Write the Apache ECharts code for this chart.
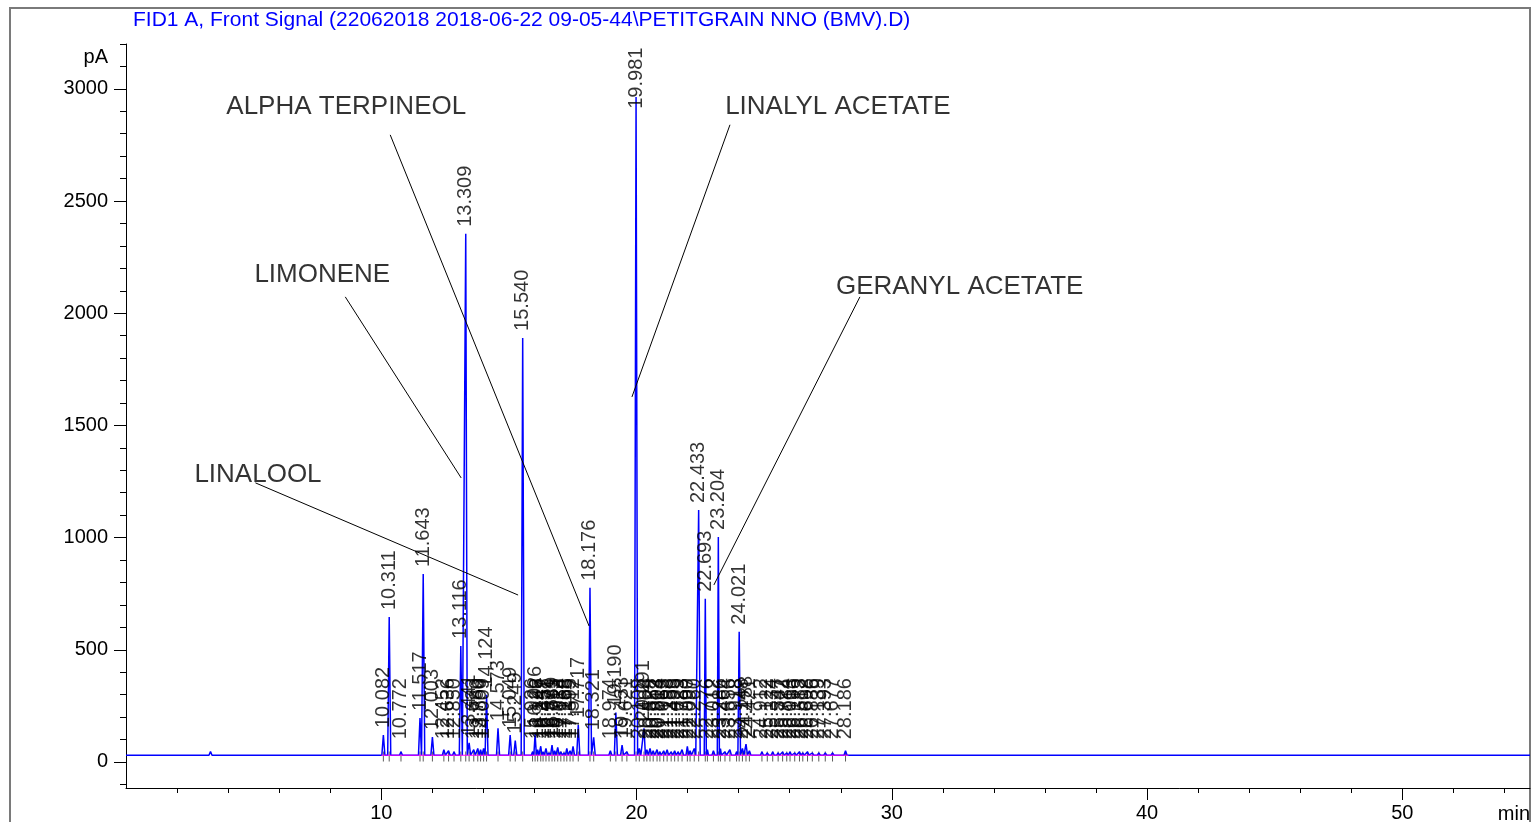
<!DOCTYPE html>
<html>
<head>
<meta charset="utf-8">
<script src="https://cdn.jsdelivr.net/npm/echarts@6/dist/echarts.min.js"></script>
<style>
html,body{margin:0;padding:0;background:#fff;}
#chart{width:1531px;height:822px;}
</style>
</head>
<body>
<div id="chart"></div>
<script>
// ---------------- data ----------------
const titleText = 'FID1 A, Front Signal (22062018 2018-06-22 09-05-44\\PETITGRAIN NNO (BMV).D)';
const baseline = 30; // pA

// labelled peaks: retention time (min) and apex height (pA)
const peakTimes = [
  10.082, 10.311, 10.772, 11.517, 11.643, 12.003, 12.452, 12.636, 12.850, 13.116,
  13.309, 13.441, 13.623, 13.780, 13.890, 14.009, 14.124, 14.573, 15.049, 15.249,
  15.540, 15.926, 16.026, 16.126, 16.247, 16.338, 16.452, 16.571, 16.689, 16.793,
  16.912, 17.034, 17.158, 17.268, 17.395, 17.512, 17.717, 18.176, 18.321, 18.974,
  19.190, 19.433, 19.621, 19.981, 20.108, 20.291, 20.404, 20.528, 20.652, 20.803,
  20.914, 21.063, 21.198, 21.356, 21.493, 21.629, 21.783, 21.990, 22.097, 22.260,
  22.433, 22.693, 22.776, 23.012, 23.204, 23.286, 23.464, 23.656, 23.918, 24.021,
  24.148, 24.288, 24.421, 24.912, 25.122, 25.334, 25.547, 25.722, 25.884, 26.013,
  26.196, 26.383, 26.512, 26.698, 26.886, 27.139, 27.393, 27.677, 28.186
];
const peakHeights = [
  120, 646, 45, 196, 838, 111, 55, 50, 45, 517,
  2354, 85, 55, 60, 55, 60, 300, 150, 120, 95,
  1890, 45, 125, 55, 70, 45, 60, 40, 75, 50,
  65, 45, 40, 60, 50, 70, 165, 776, 110, 50,
  220, 75, 45, 2964, 60, 150, 55, 60, 50, 55,
  45, 50, 55, 45, 50, 45, 55, 70, 50, 60,
  1123, 727, 55, 50, 1003, 60, 45, 55, 45, 580,
  60, 80, 50, 45, 40, 45, 40, 45, 40, 45,
  40, 45, 40, 45, 40, 40, 40, 40, 50
];
// small unlabelled bumps in the early baseline
const bumpTimes = [3.31, 3.98];
const bumpHeights = [46, 34];

// integration baseline (magenta)
const integrationBaseline = [[10.0, 30], [28.3, 30]];

// axes ticks
const xMajorTicks = [10, 20, 30, 40, 50];
const xMinorTicks = [2,4,6,8,10,12,14,16,18,20,22,24,26,28,30,32,34,36,38,40,42,44,46,48,50,52,54];
const yMajorTicks = [0, 500, 1000, 1500, 2000, 2500, 3000];
const yMinorTicks = [-100,0,100,200,300,400,500,600,700,800,900,1000,1100,1200,1300,1400,1500,
  1600,1700,1800,1900,2000,2100,2200,2300,2400,2500,2600,2700,2800,2900,3000,3100,3200];

// compound annotations (data coordinates)
const compoundNames = ['LINALOOL', 'LIMONENE', 'ALPHA TERPINEOL', 'LINALYL ACETATE', 'GERANYL ACETATE'];
const compoundTextAt = [[2.68, 1279], [5.03, 2171], [3.93, 2920], [23.47, 2920], [27.81, 2117]];
const compoundLineFrom = [[5.07, 1244], [8.59, 2073], [10.35, 2795], [23.66, 2840], [28.75, 2073]];
const compoundLineTo = [[15.36, 744], [13.13, 1266], [18.14, 606], [19.82, 1627], [23.03, 789]];

// ---------------- build trace ----------------
const FONT = '"Liberation Sans", Arial, sans-serif';
const allPeaks = peakTimes.map((t, i) => [t, peakHeights[i]])
  .concat(bumpTimes.map((t, i) => [t, bumpHeights[i]]))
  .sort((a, b) => a[0] - b[0]);
const trace = [[0, baseline]];
allPeaks.forEach((p, i) => {
  const prev = i > 0 ? allPeaks[i - 1][0] : -Infinity;
  const next = i < allPeaks.length - 1 ? allPeaks[i + 1][0] : Infinity;
  const hw = Math.min(0.06, (p[0] - prev) / 2, (next - p[0]) / 2);
  trace.push([p[0] - hw, baseline], [p[0], p[1]], [p[0] + hw, baseline]);
});
trace.push([55, baseline]);

// labels sit above the apex, but never below a floor nor beyond the plot top
const labelFloor = 70;
const labelCeiling = 2880;

const chart = echarts.init(document.getElementById('chart'), null, {renderer: 'canvas'});
chart.setOption({
  animation: false,
  backgroundColor: '#ffffff',
  title: {
    text: titleText, left: 133, top: 10, padding: 0,
    textStyle: {color: '#0000ff', fontSize: 21, fontWeight: 'normal', fontFamily: FONT}
  },
  graphic: [{
    type: 'rect', silent: true, z: -10,
    shape: {x: 10, y: 8, width: 1520, height: 840},
    style: {fill: 'none', stroke: '#7a7a7a', lineWidth: 2}
  }],
  grid: {left: 126, right: 1, top: 44, bottom: 34, containLabel: false, outerBoundsMode: 'none'},
  xAxis: [{
    type: 'value', min: 0, max: 55, position: 'bottom',
    axisLine: {show: true, onZero: false, lineStyle: {color: '#000', width: 1}},
    axisTick: {show: true, customValues: xMajorTicks, length: 12, lineStyle: {color: '#000'}},
    axisLabel: {show: true, customValues: xMajorTicks, margin: 15, fontSize: 20, color: '#000', fontFamily: FONT,
      formatter: v => String(v)},
    splitLine: {show: false},
    name: 'min', nameLocation: 'end', nameGap: 0,
    nameTextStyle: {align: 'right', verticalAlign: 'top', padding: [16, 0, 0, 0], fontSize: 20, color: '#000', fontFamily: FONT}
  }, {
    type: 'value', min: 0, max: 55, position: 'bottom',
    axisLine: {show: false, onZero: false},
    axisTick: {show: true, customValues: xMinorTicks, length: 5, lineStyle: {color: '#000'}},
    axisLabel: {show: false},
    splitLine: {show: false}
  }],
  yAxis: [{
    type: 'value', min: -116, max: 3200, position: 'left',
    axisLine: {show: true, onZero: false, lineStyle: {color: '#000', width: 1}},
    axisTick: {show: true, customValues: yMajorTicks, length: 12, lineStyle: {color: '#000'}},
    axisLabel: {show: true, customValues: yMajorTicks, margin: 18, fontSize: 20, color: '#000', fontFamily: FONT,
      formatter: v => String(v)},
    splitLine: {show: false},
    name: 'pA', nameLocation: 'end', nameGap: -13,
    nameTextStyle: {align: 'right', verticalAlign: 'middle', padding: [0, 18, 0, 0], fontSize: 20, color: '#000', fontFamily: FONT}
  }, {
    type: 'value', min: -116, max: 3200, position: 'left',
    axisLine: {show: false, onZero: false},
    axisTick: {show: true, customValues: yMinorTicks, length: 6, lineStyle: {color: '#000'}},
    axisLabel: {show: false},
    splitLine: {show: false}
  }],
  series: [
    {
      type: 'line', name: 'FID1 A', data: trace, showSymbol: false, silent: true, z: 3,
      lineStyle: {color: '#0000ff', width: 1.5}
    },
    {
      type: 'line', name: 'baseline', data: integrationBaseline, showSymbol: false, silent: true, z: 4,
      lineStyle: {color: '#ff00ff', width: 1}
    },
    {
      type: 'scatter', name: 'ticks', silent: true, z: 2,
      symbol: 'rect', symbolSize: [1, 10],
      itemStyle: {color: '#333'},
      data: peakTimes.map(t => [t, 24])
    },
    {
      type: 'scatter', name: 'peak labels', silent: true, z: 5,
      symbolSize: 0,
      data: peakTimes.map((t, i) => [t, Math.min(Math.max(peakHeights[i], labelFloor), labelCeiling)]),
      label: {
        show: true, position: 'top', distance: 7, rotate: 90,
        align: 'left', verticalAlign: 'middle',
        fontSize: 20, color: '#000', fontFamily: FONT,
        formatter: p => peakTimes[p.dataIndex].toFixed(3)
      }
    },
    {
      type: 'lines', coordinateSystem: 'cartesian2d', silent: true, z: 6,
      lineStyle: {color: '#000', width: 1, opacity: 1},
      data: compoundLineFrom.map((f, i) => ({coords: [f, compoundLineTo[i]]}))
    },
    {
      type: 'scatter', name: 'compounds', silent: true, z: 6,
      symbolSize: 0,
      data: compoundTextAt,
      label: {
        show: true, position: 'right', distance: 0,
        align: 'left', verticalAlign: 'middle',
        fontSize: 26, color: '#000', fontFamily: FONT,
        formatter: p => compoundNames[p.dataIndex]
      }
    }
  ]
});
</script>
</body>
</html>
